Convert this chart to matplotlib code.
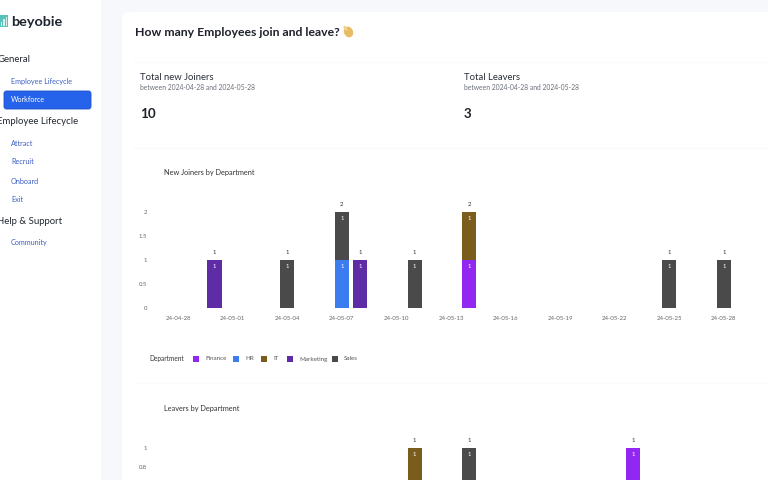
import matplotlib
matplotlib.use("Agg")
import matplotlib.pyplot as plt
import matplotlib.dates as mdates
from matplotlib.patches import Ellipse, FancyBboxPatch, Rectangle
import pandas as pd

plt.rcParams["font.family"] = ["Lato", "DejaVu Sans"]

# data
departments = ["Finance", "HR", "IT", "Marketing", "Sales"]
colors = ["#9127f0", "#3b7cf0", "#7a5c1c", "#5e2ca5", "#4a4a4a"]

join_dates = ["2024-04-30", "2024-05-04", "2024-05-07", "2024-05-08",
              "2024-05-11", "2024-05-14", "2024-05-25", "2024-05-28"]
join_finance = [0, 0, 0, 0, 0, 1, 0, 0]
join_hr = [0, 0, 1, 0, 0, 0, 0, 0]
join_it = [0, 0, 0, 0, 0, 1, 0, 0]
join_marketing = [1, 0, 0, 1, 0, 0, 0, 0]
join_sales = [0, 1, 1, 0, 1, 0, 1, 1]

leave_dates = ["2024-05-11", "2024-05-14", "2024-05-23"]
leave_finance = [0, 0, 1]
leave_hr = [0, 0, 0]
leave_it = [1, 0, 0]
leave_marketing = [0, 0, 0]
leave_sales = [0, 1, 0]

tick_dates = ["2024-04-28", "2024-05-01", "2024-05-04", "2024-05-07",
              "2024-05-10", "2024-05-13", "2024-05-16", "2024-05-19",
              "2024-05-22", "2024-05-25", "2024-05-28"]
join_yticks = [0, 0.5, 1, 1.5, 2]
leave_yticks = [0.8, 1]  # the rest of this axis runs off the screenshot

W, H = 768, 480
fig = plt.figure(figsize=(W / 100, H / 100), dpi=100, facecolor="#f7f8fc")


def px_axes(left, top, right, bottom):
    return fig.add_axes([left / W, 1 - bottom / H, (right - left) / W, (bottom - top) / H])


# page layout, in pixels
ui = fig.add_axes([0, 0, 1, 1])
ui.set_xlim(0, W)
ui.set_ylim(H, 0)
ui.axis("off")
ui.add_patch(Rectangle((0, 0), 101, H, fc="white", ec="none"))
ui.add_patch(FancyBboxPatch((122, 12), 700, 520, boxstyle="round,pad=0,rounding_size=7",
                            fc="white", ec="none"))
for y in [62, 148, 383]:
    ui.plot([134, 768], [y, y], color="#fafafa", lw=0.8)

# logo
ui.add_patch(Rectangle((-2, 15), 10, 12, fc="#56c2ba", ec="none"))
for x, h in [(0.5, 4), (3, 7), (5.5, 9)]:
    ui.add_patch(Rectangle((x, 26 - h), 1.6, h, fc="#d5f0ed", ec="none"))
ui.text(11, 22, "beyobie", fontsize=10.4, fontweight="bold", color="#1d2430", va="center")

# sidebar
heading = "#222831"
link = "#3f60c4"
for y, s in [(60, "General"), (122, "Employee Lifecycle"), (221, "Help & Support")]:
    ui.text(-3, y, s, fontsize=6.9, color=heading, va="center")
for y, s in [(81.5, "Employee Lifecycle"), (144, "Attract"), (162, "Recruit"),
             (181, "Onboard"), (199, "Exit"), (243, "Community")]:
    ui.text(11, y, s, fontsize=5.2, color=link, va="center")
ui.add_patch(FancyBboxPatch((4, 91), 87, 18, boxstyle="round,pad=0,rounding_size=2.5",
                            fc="#2563eb", ec="#1e50c8", lw=0.6))
ui.text(11, 100, "Workforce", fontsize=5.2, color="white", va="center")

# heading and totals
ui.text(135, 32, "How many Employees join and leave?", fontsize=8.8, fontweight="bold",
        color="#1d2129", va="center")
# no installed font has the waving hand, so a small shape stands in for it
ui.add_patch(Ellipse((348.5, 32), 9, 11, angle=-25, fc="#e9bb62", ec="none"))
ui.add_patch(Ellipse((345.5, 28.5), 3, 6, angle=-30, fc="#f3d08a", ec="none"))

for x, title, total in [(140, "Total new Joiners", "10"), (464, "Total Leavers", "3")]:
    ui.text(x, 78, title, fontsize=6.8, color="#2a2f38", va="center")
    ui.text(x, 88, "between 2024-04-28 and 2024-05-28", fontsize=4.9, color="#6a6f78", va="center")
    ui.text(x, 113.5, total, fontsize=9.6, fontweight="bold", color="#1d2129", va="center")

ui.text(164, 172, "New Joiners by Department", fontsize=5.3, color="#333333", va="center")
ui.text(164, 408, "Leavers by Department", fontsize=5.3, color="#333333", va="center")

# legend
ui.text(149, 358.5, "Department", fontsize=4.7, color="#333333", va="center")
for x, name, c in zip([193, 233, 261, 287, 332], departments, colors):
    ui.add_patch(Rectangle((x, 356), 5.5, 5.5, fc=c, ec="none"))
    ui.text(x + 12, 359, name, fontsize=4.5, color="#555555", va="center")


def draw_stack(ax, dates, series):
    x = pd.to_datetime(dates)
    bottom = [0] * len(dates)
    for vals, c in zip(series, colors):
        ax.bar(x, vals, bottom=bottom, width=0.78, color=c, linewidth=0)
        for xi, v, b in zip(x, vals, bottom):
            if v > 0:
                ax.annotate(str(v), (xi, b + v), xytext=(0, -6), textcoords="offset pixels",
                            ha="center", va="center", fontsize=4.3, color="white")
        bottom = [b + v for b, v in zip(bottom, vals)]
    for xi, b in zip(x, bottom):
        ax.annotate(str(b), (xi, b), xytext=(0, 8), textcoords="offset pixels",
                    ha="center", va="center", fontsize=4.3, color="#333333", annotation_clip=False)
    ax.set_xlim(pd.Timestamp("2024-04-27 12:00"), pd.Timestamp("2024-05-28 12:00"))
    ax.tick_params(length=0, labelsize=4.3, labelcolor="#666666")
    ax.tick_params(axis="x", pad=5.5)
    ax.tick_params(axis="y", pad=16)
    for s in ax.spines.values():
        s.set_visible(False)
    ax.patch.set_alpha(0)


ax1 = px_axes(169, 212, 733, 308)
draw_stack(ax1, join_dates, [join_finance, join_hr, join_it, join_marketing, join_sales])
ax1.set_xticks(pd.to_datetime(tick_dates))
ax1.xaxis.set_major_formatter(mdates.DateFormatter("%y-%m-%d"))
ax1.set_ylim(0, 2)
ax1.set_yticks(join_yticks)
ax1.set_yticklabels(["0", "0.5", "1", "1.5", "2"])

ax2 = px_axes(169, 448, 733, 544)
draw_stack(ax2, leave_dates, [leave_finance, leave_hr, leave_it, leave_marketing, leave_sales])
ax2.set_xticks([])
ax2.set_ylim(0, 1)
ax2.set_yticks(leave_yticks)
ax2.set_yticklabels(["0.8", "1"])

fig.savefig("out.png", dpi=100)
